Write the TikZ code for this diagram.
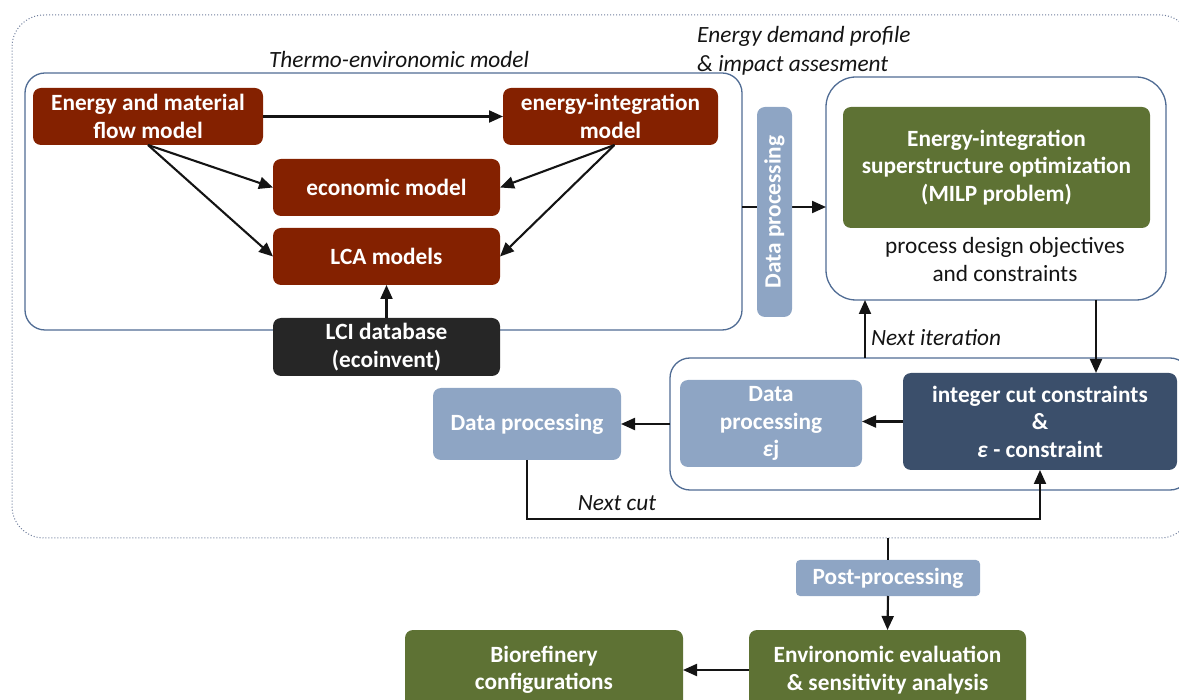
\documentclass[tikz,border=0pt]{standalone}
\usepackage{fontspec}
\setmainfont{Carlito}
\usetikzlibrary{arrows.meta,calc}

\definecolor{rust}{RGB}{132,33,0}
\definecolor{olive}{RGB}{94,114,52}
\definecolor{paleblue}{RGB}{142,165,196}
\definecolor{slate}{RGB}{59,79,107}
\definecolor{coal}{RGB}{38,38,38}
\definecolor{frame}{RGB}{80,108,148}
\definecolor{dots}{RGB}{110,125,155}
\definecolor{ink}{RGB}{20,20,20}

\tikzset{
  base/.style={rounded corners=8pt, inner sep=0pt, outer sep=0pt, align=center,
    text=white, font=\fontsize{23.3}{27.5}\selectfont\bfseries},
  redbox/.style={base, fill=rust},
  greenbox/.style={base, fill=olive},
  bluebox/.style={base, fill=paleblue},
  navybox/.style={base, fill=slate},
  darkbox/.style={base, fill=coal},
  container/.style={draw=frame, line width=1.3pt, rounded corners=#1, inner sep=0pt, outer sep=0pt},
  container/.default=20pt,
  arr/.style={draw=ink, line width=2.1pt, -{Triangle[length=14pt,width=12pt]}},
  plain/.style={draw=ink, line width=2.1pt},
  note/.style={font=\fontsize{23.3}{29}\selectfont\itshape, text=ink, inner sep=0pt},
  body/.style={font=\fontsize{23.3}{27.5}\selectfont, text=ink, inner sep=0pt, align=center}
}

\begin{document}
\begin{tikzpicture}[x=1pt,y=-1pt]
\useasboundingbox (0,0) rectangle (1179,700);

% outer dotted frame around the iteration loop
\node[draw=dots, dotted, line width=1pt, rounded corners=32pt, inner sep=0pt, outer sep=0pt,
      minimum width=1180pt, minimum height=523pt] (outer) at (602,276.5) {};

% containers
\node[container, minimum width=717pt, minimum height=257pt] (thermo) at (383.5,201.5) {};
\node[container=30pt, minimum width=340pt, minimum height=223pt] (opt) at (996,188.5) {};
\node[container, minimum width=520pt, minimum height=132pt] (lower) at (930,424) {};

% labels
\node[note] (tlabel) at (399,59) {Thermo-environomic model};
\node[note, align=left, anchor=west] (elabel) at (697,51) {Energy demand profile\\\& impact assesment};

% thermo-environomic model blocks
\node[redbox, minimum width=230pt, minimum height=57pt] (emf) at (148,116.5) {Energy and material\\flow model};
\node[redbox, minimum width=215pt, minimum height=57pt] (eim) at (610.5,116.5) {energy-integration\\model};
\node[redbox, minimum width=227pt, minimum height=57pt] (eco) at (386.5,187.5) {economic model};
\node[redbox, minimum width=227pt, minimum height=57pt] (lca) at (386.5,256.5) {LCA models};
\node[darkbox, minimum width=227pt, minimum height=58pt] (lci) at (386.5,347) {LCI database\\(ecoinvent)};

\draw[arr] (emf.east) -- (eim.west);
\draw[arr] (emf.south) -- (eco.west);
\draw[arr] (emf.south) -- (lca.west);
\draw[arr] ([xshift=4pt]eim.south) -- (eco.east);
\draw[arr] ([xshift=4pt]eim.south) -- (lca.east);
\draw[arr] (lci.north) -- (lca.south);

% data processing link to the optimisation
\coordinate (link) at (0,207);
\draw[arr] (thermo.east |- link) -- (opt.west |- link);
\node[bluebox, rotate=90, minimum width=210pt, minimum height=35pt] (dp) at (774.5,212) {Data processing};

% optimisation block
\node[greenbox, minimum width=307pt, minimum height=121pt] (milp) at (996.5,167.5)
  {Energy-integration\\superstructure optimization\\(MILP problem)};
\node[body] (obj) at (1005,259.5) {process design objectives\\and constraints};

% iteration loop
\node[bluebox, minimum width=182pt, minimum height=87pt] (dpe) at (771,423.5) {Data\\processing\\\textit{ε}j};
\node[navybox, minimum width=274pt, minimum height=97pt] (icc) at (1040,421.5)
  {integer cut constraints\\\&\\\textit{ε} - constraint};
\node[bluebox, minimum width=188pt, minimum height=72pt] (dp2) at (527,424) {Data processing};

\coordinate (ni) at (865,0);
\coordinate (nd) at (1096,0);
\draw[arr] (lower.north -| ni) -- (opt.south -| ni);
\node[note, anchor=west] (nilabel) at (871,338) {Next iteration};
\draw[arr] (opt.south -| nd) -- (icc.north -| nd);
\draw[arr] (icc.west) -- (dpe.east |- icc.west);
\draw[arr] (lower.west) -- (dp2.east);
\draw[arr] (dp2.south) -- ++(0,59) -| (icc.south);
\node[note] (nclabel) at (617,503) {Next cut};

% post-processing and results
\node[bluebox, rounded corners=4pt, minimum width=184pt, minimum height=36pt] (post) at (888,578) {Post-processing};
\node[greenbox, minimum width=277pt, minimum height=80pt] (env) at (887.5,670)
  {Environomic evaluation\\\& sensitivity analysis};
\node[greenbox, minimum width=278pt, minimum height=80pt] (bio) at (544,670)
  {Biorefinery\\configurations};

\draw[plain] (post.north |- outer.south) -- (post.north);
\draw[arr] (post.south) -- (env.north);
\draw[arr] (env.west) -- (bio.east);
\end{tikzpicture}
\end{document}
